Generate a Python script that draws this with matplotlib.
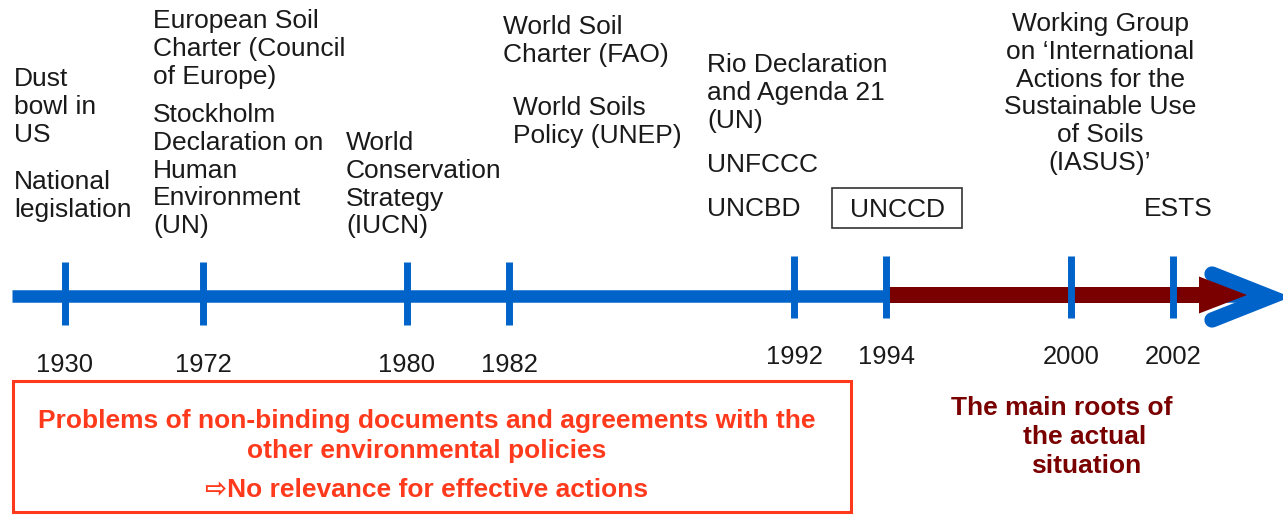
import matplotlib
matplotlib.use("Agg")
from matplotlib import pyplot as plt
from matplotlib.patches import FancyArrow, Rectangle

# timeline data
years = ["1930", "1972", "1980", "1982", "1992", "1994", "2000", "2002"]
tick_x = [65, 203, 407, 509, 794, 886, 1071, 1173]      # layout: not linear in time
tick_top = [262, 262, 262, 262, 256, 256, 256, 256]
tick_bot = [325, 325, 325, 325, 318, 318, 318, 318]
year_y = [365, 365, 365, 365, 357, 357, 357, 357]

# events above the line: (text, x, y of first line, alignment)
events = [
    ("Dust\nbowl in\nUS", 14, 77, "left"),
    ("National\nlegislation", 14, 180, "left"),
    ("European Soil\nCharter (Council\nof Europe)", 153, 19, "left"),
    ("Stockholm\nDeclaration on\nHuman\nEnvironment\n(UN)", 153, 113, "left"),
    ("World\nConservation\nStrategy\n(IUCN)", 346, 141, "left"),
    ("World Soil\nCharter (FAO)", 503, 25, "left"),
    ("World Soils\nPolicy (UNEP)", 513, 106, "left"),
    ("Rio Declaration\nand Agenda 21\n(UN)", 707, 63, "left"),
    ("UNFCCC", 707, 163, "left"),
    ("UNCBD", 707, 207, "left"),
    ("Working Group\non \u2018International\nActions for the\nSustainable Use\nof Soils\n(IASUS)\u2019", 1100, 22, "center"),
    ("ESTS", 1178, 207, "center"),
]
boxed_event = "UNCCD"

problem_lines = [
    "Problems of non-binding documents and agreements with the",
    "other environmental policies",
    "\u21e8No relevance for effective actions",
]
roots_lines = ["The main roots of", "the actual", "situation"]

BLUE = "#0063c9"
DARK_RED = "#7a0000"
ORANGE_RED = "#ff3a1c"
TEXT = "#1a1a1a"
FONT = ["Liberation Sans", "DejaVu Sans"]

fig = plt.figure(figsize=(12.83, 5.16), dpi=100)
ax = fig.add_axes([0, 0, 1, 1])
ax.set_xlim(0, 1283)
ax.set_ylim(516, 0)
ax.axis("off")

# main blue line + chevron head
ax.plot([12, 1258], [296, 296], color=BLUE, lw=9, solid_capstyle="butt", zorder=2)
ax.plot([1212, 1270, 1212], [274, 297, 320], color=BLUE, lw=11,
        solid_joinstyle="miter", solid_capstyle="round", zorder=2)

# dark red arrow from 1994 on
ax.add_patch(FancyArrow(tick_x[5], 295, 361, 0, width=16, head_width=37,
                        head_length=48, length_includes_head=True,
                        color=DARK_RED, lw=0, zorder=3))

# ticks
for x, t, b in zip(tick_x, tick_top, tick_bot):
    ax.plot([x, x], [t, b], color=BLUE, lw=5, solid_capstyle="butt", zorder=4)

# years
for x, y, lab in zip(tick_x, year_y, years):
    ax.text(x, y, lab, ha="center", va="center", fontsize=18.4, color=TEXT,
            family=FONT)

# events
for txt, x, y, al in events:
    ax.text(x, y - 10, txt, ha=al, va="top", fontsize=19, color=TEXT,
            family=FONT, linespacing=1.2, multialignment=al)

ax.add_patch(Rectangle((832, 188), 130, 40, fill=False, edgecolor="#333333",
                       lw=1.2))
ax.text(897, 210, boxed_event, ha="center", va="center", fontsize=19,
        color=TEXT, family=FONT)

# lower boxes
ax.add_patch(Rectangle((13, 381), 838, 131, fill=False, edgecolor=ORANGE_RED,
                       lw=2.2))
for txt, y in zip(problem_lines, [421, 451, 490]):
    ax.text(427, y, txt, ha="center", va="center", fontsize=19,
            color=ORANGE_RED, family=FONT, fontweight="bold")

for txt, x, y in zip(roots_lines, [1062, 1085, 1086], [408, 437, 466]):
    ax.text(x, y, txt, ha="center", va="center", fontsize=19,
            color=DARK_RED, family=FONT, fontweight="bold")

fig.savefig("out.png", dpi=100)
